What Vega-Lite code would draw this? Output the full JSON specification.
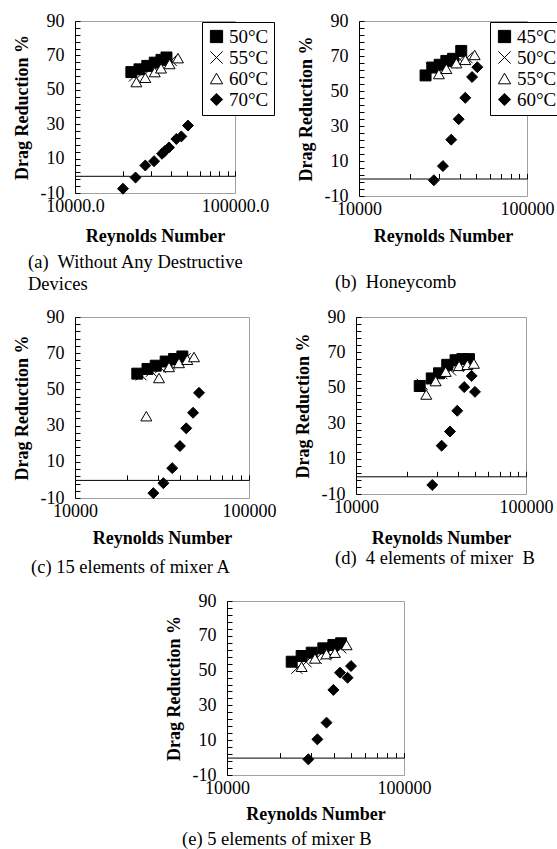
{
  "$schema": "https://vega.github.io/schema/vega-lite/v6.json",
  "padding": {"left": 12, "top": 11, "right": 0, "bottom": 0},
  "background": "white",
  "config": {
    "font": "Liberation Serif",
    "view": {"stroke": "#a0a0a0", "strokeWidth": 1},
    "axis": {
      "labelFont": "Liberation Serif", "labelFontSize": 18, "labelColor": "black",
      "titleFont": "Liberation Serif", "titleFontSize": 18, "titleFontWeight": "bold", "titleColor": "black",
      "domainColor": "black", "tickColor": "black", "grid": false,
      "labelFlush": false, "labelOverlap": false
    },
    "title": {"font": "Liberation Serif", "fontSize": 18.5, "fontWeight": "normal", "color": "black", "orient": "bottom", "anchor": "start", "frame": "bounds", "lineHeight": 22},
    "legend": {
      "labelFont": "Liberation Serif", "labelFontSize": 19, "labelColor": "black",
      "fillColor": "white", "strokeColor": "black", "padding": 5, "symbolSize": 150,
      "symbolStrokeWidth": 1, "rowPadding": 1, "labelOffset": 3
    }
  },
  "datasets": {
    "a": [
      {"s": "50°C", "re": 22500, "dr": 60.3}, {"s": "50°C", "re": 25300, "dr": 61.9}, {"s": "50°C", "re": 28300, "dr": 63.9},
      {"s": "50°C", "re": 31500, "dr": 65.8}, {"s": "50°C", "re": 34700, "dr": 67.4}, {"s": "50°C", "re": 37300, "dr": 68.8},
      {"s": "55°C", "re": 23500, "dr": 58}, {"s": "55°C", "re": 26500, "dr": 60}, {"s": "55°C", "re": 29500, "dr": 62},
      {"s": "55°C", "re": 33000, "dr": 64}, {"s": "55°C", "re": 36500, "dr": 66}, {"s": "55°C", "re": 40000, "dr": 67},
      {"s": "60°C", "re": 24200, "dr": 54.5}, {"s": "60°C", "re": 27500, "dr": 57}, {"s": "60°C", "re": 31500, "dr": 60.3},
      {"s": "60°C", "re": 34500, "dr": 62.5}, {"s": "60°C", "re": 39000, "dr": 65}, {"s": "60°C", "re": 44000, "dr": 68.4},
      {"s": "70°C", "re": 19950, "dr": -7.5}, {"s": "70°C", "re": 23900, "dr": -1}, {"s": "70°C", "re": 27500, "dr": 6},
      {"s": "70°C", "re": 31200, "dr": 8.5}, {"s": "70°C", "re": 35000, "dr": 12.8}, {"s": "70°C", "re": 36500, "dr": 14.5},
      {"s": "70°C", "re": 38700, "dr": 16.5}, {"s": "70°C", "re": 43000, "dr": 21.4}, {"s": "70°C", "re": 46200, "dr": 22.9},
      {"s": "70°C", "re": 50800, "dr": 29.2}
    ],
    "b": [
      {"s": "45°C", "re": 24900, "dr": 58.9}, {"s": "45°C", "re": 27300, "dr": 63.4}, {"s": "45°C", "re": 30200, "dr": 65},
      {"s": "45°C", "re": 33100, "dr": 67.2}, {"s": "45°C", "re": 36300, "dr": 68.4}, {"s": "45°C", "re": 40600, "dr": 72.9},
      {"s": "50°C", "re": 27000, "dr": 63}, {"s": "50°C", "re": 31000, "dr": 64}, {"s": "50°C", "re": 35500, "dr": 66},
      {"s": "50°C", "re": 40000, "dr": 68}, {"s": "50°C", "re": 44000, "dr": 69},
      {"s": "55°C", "re": 29900, "dr": 59.7}, {"s": "55°C", "re": 33100, "dr": 62.7}, {"s": "55°C", "re": 38000, "dr": 65.9},
      {"s": "55°C", "re": 42900, "dr": 67.8}, {"s": "55°C", "re": 48800, "dr": 70.6},
      {"s": "60°C", "re": 27900, "dr": -1}, {"s": "60°C", "re": 31600, "dr": 7.1}, {"s": "60°C", "re": 35400, "dr": 22.2},
      {"s": "60°C", "re": 39200, "dr": 33.9}, {"s": "60°C", "re": 42900, "dr": 46.1}, {"s": "60°C", "re": 47100, "dr": 58},
      {"s": "60°C", "re": 50600, "dr": 63.6}
    ],
    "c": [
      {"s": "45°C", "re": 22800, "dr": 58.7}, {"s": "45°C", "re": 26100, "dr": 61.3}, {"s": "45°C", "re": 29100, "dr": 63.1},
      {"s": "45°C", "re": 33200, "dr": 65.4}, {"s": "45°C", "re": 37100, "dr": 66.8}, {"s": "45°C", "re": 41400, "dr": 68.2},
      {"s": "50°C", "re": 24000, "dr": 58}, {"s": "50°C", "re": 27500, "dr": 60}, {"s": "50°C", "re": 31000, "dr": 62},
      {"s": "50°C", "re": 35000, "dr": 64}, {"s": "50°C", "re": 39000, "dr": 66}, {"s": "50°C", "re": 43000, "dr": 67},
      {"s": "55°C", "re": 25700, "dr": 35.2}, {"s": "55°C", "re": 30400, "dr": 56.3}, {"s": "55°C", "re": 34700, "dr": 62.4},
      {"s": "55°C", "re": 39600, "dr": 64.6}, {"s": "55°C", "re": 44200, "dr": 66.4}, {"s": "55°C", "re": 48300, "dr": 67.9},
      {"s": "60°C", "re": 28200, "dr": -7.3}, {"s": "60°C", "re": 32200, "dr": -1.8}, {"s": "60°C", "re": 36200, "dr": 6.5},
      {"s": "60°C", "re": 40100, "dr": 18.7}, {"s": "60°C", "re": 43600, "dr": 28.5}, {"s": "60°C", "re": 47700, "dr": 37.1},
      {"s": "60°C", "re": 51600, "dr": 48.1}
    ],
    "d": [
      {"s": "45°C", "re": 23700, "dr": 51}, {"s": "45°C", "re": 27900, "dr": 55.3}, {"s": "45°C", "re": 30800, "dr": 58.2},
      {"s": "45°C", "re": 34400, "dr": 63}, {"s": "45°C", "re": 38500, "dr": 65.6}, {"s": "45°C", "re": 42200, "dr": 66.2},
      {"s": "45°C", "re": 46200, "dr": 66.2},
      {"s": "50°C", "re": 24500, "dr": 52}, {"s": "50°C", "re": 28500, "dr": 55}, {"s": "50°C", "re": 32000, "dr": 58},
      {"s": "50°C", "re": 36000, "dr": 60}, {"s": "50°C", "re": 40000, "dr": 62}, {"s": "50°C", "re": 44000, "dr": 63},
      {"s": "55°C", "re": 25900, "dr": 46.2}, {"s": "55°C", "re": 29400, "dr": 53.8}, {"s": "55°C", "re": 33700, "dr": 59.1},
      {"s": "55°C", "re": 40400, "dr": 62.4}, {"s": "55°C", "re": 45200, "dr": 63}, {"s": "55°C", "re": 49400, "dr": 63.7},
      {"s": "60°C", "re": 28100, "dr": -4.9}, {"s": "60°C", "re": 31900, "dr": 17.3}, {"s": "60°C", "re": 35700, "dr": 25.3},
      {"s": "60°C", "re": 39400, "dr": 37}, {"s": "60°C", "re": 43300, "dr": 50.4}, {"s": "60°C", "re": 47900, "dr": 56.7},
      {"s": "60°C", "re": 50100, "dr": 47.7}
    ],
    "e": [
      {"s": "45°C", "re": 23200, "dr": 55.1}, {"s": "45°C", "re": 26400, "dr": 58.4}, {"s": "45°C", "re": 30100, "dr": 60.3},
      {"s": "45°C", "re": 35000, "dr": 62.8}, {"s": "45°C", "re": 39900, "dr": 64.7}, {"s": "45°C", "re": 44100, "dr": 65.7},
      {"s": "50°C", "re": 24800, "dr": 51.3}, {"s": "50°C", "re": 28000, "dr": 55}, {"s": "50°C", "re": 32000, "dr": 57},
      {"s": "50°C", "re": 36000, "dr": 59}, {"s": "50°C", "re": 40000, "dr": 61}, {"s": "50°C", "re": 44000, "dr": 63},
      {"s": "55°C", "re": 26400, "dr": 52.2}, {"s": "55°C", "re": 31400, "dr": 57}, {"s": "55°C", "re": 36500, "dr": 59.5},
      {"s": "55°C", "re": 40700, "dr": 60.3}, {"s": "55°C", "re": 47400, "dr": 64.7},
      {"s": "60°C", "re": 28800, "dr": -1}, {"s": "60°C", "re": 32400, "dr": 10.5}, {"s": "60°C", "re": 36500, "dr": 20.1},
      {"s": "60°C", "re": 39900, "dr": 38.9}, {"s": "60°C", "re": 43500, "dr": 48.8}, {"s": "60°C", "re": 48000, "dr": 45.9},
      {"s": "60°C", "re": 50200, "dr": 52.6}
    ]
  },
  "resolve": {"scale": {"shape": "independent", "fill": "independent", "stroke": "independent"}},
  "spacing": 14,
  "vconcat": [
    {
      "spacing": 13,
      "resolve": {"scale": {"shape": "independent", "fill": "independent", "stroke": "independent"}},
      "vconcat": [
        {
          "bounds": "flush",
          "spacing": 124,
          "resolve": {"scale": {"shape": "independent", "fill": "independent", "stroke": "independent"}},
          "hconcat": [
            {
              "width": 160, "height": 172,
              "data": {"name": "a"},
              "title": {"text": ["(a)\u00a0 Without Any Destructive", "\u00a0Devices"], "dx": 15, "offset": 8},
              "mark": {"type": "point", "strokeWidth": 1, "opacity": 1, "size": 120},
              "encoding": {
                "x": {"field": "re", "type": "quantitative",
                  "scale": {"type": "log", "domain": [10000, 100000], "nice": false},
                  "axis": {"offset": -17.2, "values": [10000, 20000, 30000, 40000, 50000, 60000, 70000, 80000, 90000, 100000],
                    "labelExpr": "datum.value == 10000 ? '10000.0' : (datum.value == 100000 ? '100000.0' : '')",
                    "tickSize": -5, "labelPadding": 26.2, "title": "Reynolds Number", "titlePadding": 12}},
                "y": {"field": "dr", "type": "quantitative", "scale": {"domain": [-10, 90], "nice": false, "zero": false},
                  "axis": {"values": [-10, -6, -2, 2, 6, 10, 14, 18, 22, 26, 30, 34, 38, 42, 46, 50, 54, 58, 62, 66, 70, 74, 78, 82, 86, 90],
                    "labelExpr": "(datum.value + 10) % 20 == 0 ? '' + datum.value : ''",
                    "tickSize": -5, "labelPadding": 16, "title": "Drag Reduction %", "titlePadding": 9}},
                "shape": {"field": "s", "type": "nominal",
                  "scale": {"domain": ["50°C", "55°C", "60°C", "70°C"], "range": ["square", "M-1,-1L1,1M-1,1L1,-1", "triangle-up", "diamond"]},
                  "legend": {"orient": "none", "legendX": 127, "legendY": 1, "title": null}},
                "fill": {"field": "s", "type": "nominal",
                  "scale": {"domain": ["50°C", "55°C", "60°C", "70°C"], "range": ["black", "transparent", "white", "black"]},
                  "legend": {"orient": "none", "legendX": 127, "legendY": 1, "title": null}},
                "stroke": {"field": "s", "type": "nominal",
                  "scale": {"domain": ["50°C", "55°C", "60°C", "70°C"], "range": ["black", "black", "black", "black"]},
                  "legend": {"orient": "none", "legendX": 127, "legendY": 1, "title": null}}
              }
            },
            {
              "width": 168, "height": 175,
              "data": {"name": "b"},
              "title": {"text": "(b)\u00a0 Honeycomb", "dx": 38, "offset": 28},
              "mark": {"type": "point", "strokeWidth": 1, "opacity": 1, "size": 120},
              "encoding": {
                "x": {"field": "re", "type": "quantitative",
                  "scale": {"type": "log", "domain": [10000, 100000], "nice": false},
                  "axis": {"offset": -17.5, "values": [10000, 20000, 30000, 40000, 50000, 60000, 70000, 80000, 90000, 100000],
                    "labelExpr": "datum.value == 10000 ? '10000' : (datum.value == 100000 ? '100000' : '')",
                    "tickSize": -5, "labelPadding": 26.5, "title": "Reynolds Number", "titlePadding": 9}},
                "y": {"field": "dr", "type": "quantitative", "scale": {"domain": [-10, 90], "nice": false, "zero": false},
                  "axis": {"values": [-10, -6, -2, 2, 6, 10, 14, 18, 22, 26, 30, 34, 38, 42, 46, 50, 54, 58, 62, 66, 70, 74, 78, 82, 86, 90],
                    "labelExpr": "(datum.value + 10) % 20 == 0 ? '' + datum.value : ''",
                    "tickSize": -5, "labelPadding": 16, "title": "Drag Reduction %", "titlePadding": 9}},
                "shape": {"field": "s", "type": "nominal",
                  "scale": {"domain": ["45°C", "50°C", "55°C", "60°C"], "range": ["square", "M-1,-1L1,1M-1,1L1,-1", "triangle-up", "diamond"]},
                  "legend": {"orient": "none", "legendX": 131, "legendY": 1, "title": null}},
                "fill": {"field": "s", "type": "nominal",
                  "scale": {"domain": ["45°C", "50°C", "55°C", "60°C"], "range": ["black", "transparent", "white", "black"]},
                  "legend": {"orient": "none", "legendX": 131, "legendY": 1, "title": null}},
                "stroke": {"field": "s", "type": "nominal",
                  "scale": {"domain": ["45°C", "50°C", "55°C", "60°C"], "range": ["black", "black", "black", "black"]},
                  "legend": {"orient": "none", "legendX": 131, "legendY": 1, "title": null}}
              }
            }
          ]
        },
        {
          "bounds": "flush",
          "spacing": 107,
          "resolve": {"scale": {"shape": "independent", "fill": "independent", "stroke": "independent"}},
          "hconcat": [
            {
              "width": 174, "height": 181,
              "data": {"name": "c"},
              "title": {"text": "(c) 15 elements of mixer A", "dx": 18, "offset": 11},
              "mark": {"type": "point", "strokeWidth": 1, "opacity": 1, "size": 120},
              "encoding": {
                "x": {"field": "re", "type": "quantitative",
                  "scale": {"type": "log", "domain": [10000, 100000], "nice": false},
                  "axis": {"offset": -18.1, "values": [10000, 20000, 30000, 40000, 50000, 60000, 70000, 80000, 90000, 100000],
                    "labelExpr": "datum.value == 10000 ? '10000' : (datum.value == 100000 ? '100000' : '')",
                    "tickSize": -5, "labelPadding": 27.1, "title": "Reynolds Number", "titlePadding": 9}},
                "y": {"field": "dr", "type": "quantitative", "scale": {"domain": [-10, 90], "nice": false, "zero": false},
                  "axis": {"values": [-10, -6, -2, 2, 6, 10, 14, 18, 22, 26, 30, 34, 38, 42, 46, 50, 54, 58, 62, 66, 70, 74, 78, 82, 86, 90],
                    "labelExpr": "(datum.value + 10) % 20 == 0 ? '' + datum.value : ''",
                    "tickSize": -5, "labelPadding": 16, "title": "Drag Reduction %", "titlePadding": 9}},
                "shape": {"field": "s", "type": "nominal",
                  "scale": {"domain": ["45°C", "50°C", "55°C", "60°C"], "range": ["square", "M-1,-1L1,1M-1,1L1,-1", "triangle-up", "diamond"]},
                  "legend": null},
                "fill": {"field": "s", "type": "nominal",
                  "scale": {"domain": ["45°C", "50°C", "55°C", "60°C"], "range": ["black", "transparent", "white", "black"]},
                  "legend": null},
                "stroke": {"field": "s", "type": "nominal",
                  "scale": {"domain": ["45°C", "50°C", "55°C", "60°C"], "range": ["black", "black", "black", "black"]},
                  "legend": null}
              }
            },
            {
              "width": 170, "height": 177,
              "data": {"name": "d"},
              "title": {"text": "(d)\u00a0 4 elements of mixer\u00a0 B", "dx": 41, "offset": 2},
              "mark": {"type": "point", "strokeWidth": 1, "opacity": 1, "size": 120},
              "encoding": {
                "x": {"field": "re", "type": "quantitative",
                  "scale": {"type": "log", "domain": [10000, 100000], "nice": false},
                  "axis": {"offset": -17.7, "values": [10000, 20000, 30000, 40000, 50000, 60000, 70000, 80000, 90000, 100000],
                    "labelExpr": "datum.value == 10000 ? '10000' : (datum.value == 100000 ? '100000' : '')",
                    "tickSize": -5, "labelPadding": 26.7, "title": "Reynolds Number", "titlePadding": 13}},
                "y": {"field": "dr", "type": "quantitative", "scale": {"domain": [-10, 90], "nice": false, "zero": false},
                  "axis": {"values": [-10, -6, -2, 2, 6, 10, 14, 18, 22, 26, 30, 34, 38, 42, 46, 50, 54, 58, 62, 66, 70, 74, 78, 82, 86, 90],
                    "labelExpr": "(datum.value + 10) % 20 == 0 ? '' + datum.value : ''",
                    "tickSize": -5, "labelPadding": 16, "title": "Drag Reduction %", "titlePadding": 9}},
                "shape": {"field": "s", "type": "nominal",
                  "scale": {"domain": ["45°C", "50°C", "55°C", "60°C"], "range": ["square", "M-1,-1L1,1M-1,1L1,-1", "triangle-up", "diamond"]},
                  "legend": null},
                "fill": {"field": "s", "type": "nominal",
                  "scale": {"domain": ["45°C", "50°C", "55°C", "60°C"], "range": ["black", "transparent", "white", "black"]},
                  "legend": null},
                "stroke": {"field": "s", "type": "nominal",
                  "scale": {"domain": ["45°C", "50°C", "55°C", "60°C"], "range": ["black", "black", "black", "black"]},
                  "legend": null}
              }
            }
          ]
        }
      ]
    },
    {
      "bounds": "flush",
      "spacing": 151,
      "resolve": {"scale": {"shape": "independent", "fill": "independent", "stroke": "independent"}},
      "hconcat": [
        {"width": 1, "height": 1, "data": {"values": []}, "mark": "point", "view": {"stroke": null, "fill": "white"}},
        {
          "width": 177, "height": 174,
          "data": {"name": "e"},
          "title": {"text": "(e) 5 elements of mixer B", "dx": 17, "offset": 7},
          "mark": {"type": "point", "strokeWidth": 1, "opacity": 1, "size": 120},
          "encoding": {
            "x": {"field": "re", "type": "quantitative",
              "scale": {"type": "log", "domain": [10000, 100000], "nice": false},
              "axis": {"offset": -17.4, "values": [10000, 20000, 30000, 40000, 50000, 60000, 70000, 80000, 90000, 100000],
                "labelExpr": "datum.value == 10000 ? '10000' : (datum.value == 100000 ? '100000' : '')",
                "tickSize": -5, "labelPadding": 26.4, "title": "Reynolds Number", "titlePadding": 8}},
            "y": {"field": "dr", "type": "quantitative", "scale": {"domain": [-10, 90], "nice": false, "zero": false},
              "axis": {"values": [-10, -6, -2, 2, 6, 10, 14, 18, 22, 26, 30, 34, 38, 42, 46, 50, 54, 58, 62, 66, 70, 74, 78, 82, 86, 90],
                "labelExpr": "(datum.value + 10) % 20 == 0 ? '' + datum.value : ''",
                "tickSize": -5, "labelPadding": 16, "title": "Drag Reduction %", "titlePadding": 9}},
            "shape": {"field": "s", "type": "nominal",
              "scale": {"domain": ["45°C", "50°C", "55°C", "60°C"], "range": ["square", "M-1,-1L1,1M-1,1L1,-1", "triangle-up", "diamond"]},
              "legend": null},
            "fill": {"field": "s", "type": "nominal",
              "scale": {"domain": ["45°C", "50°C", "55°C", "60°C"], "range": ["black", "transparent", "white", "black"]},
              "legend": null},
            "stroke": {"field": "s", "type": "nominal",
              "scale": {"domain": ["45°C", "50°C", "55°C", "60°C"], "range": ["black", "black", "black", "black"]},
              "legend": null}
          }
        }
      ]
    }
  ]
}
